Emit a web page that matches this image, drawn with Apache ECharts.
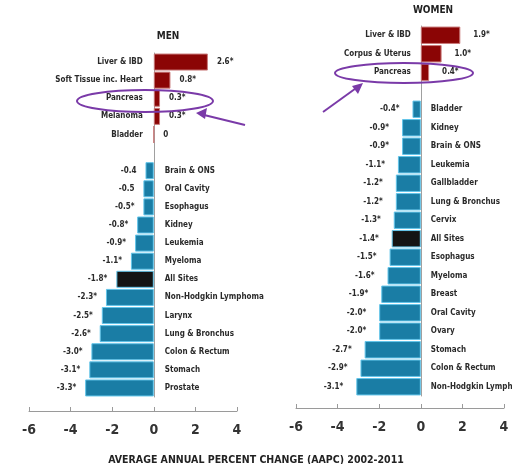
<!DOCTYPE html>
<html>
<head>
<meta charset="utf-8">
<script src="https://cdn.jsdelivr.net/npm/echarts@6/dist/echarts.min.js"></script>
<style>html,body{margin:0;padding:0;background:#fff}#c{width:512px;height:464px}</style>
</head>
<body>
<div id="c"></div>
<script>
// ---- data ----
var menCategories = ['Liver & IBD','Soft Tissue inc. Heart','Pancreas','Melanoma','Bladder','',
  'Brain & ONS','Oral Cavity','Esophagus','Kidney','Leukemia','Myeloma','All Sites',
  'Non-Hodgkin Lymphoma','Larynx','Lung & Bronchus','Colon & Rectum','Stomach','Prostate'];
var menValues = [2.6,0.8,0.3,0.3,0,null,-0.4,-0.5,-0.5,-0.8,-0.9,-1.1,-1.8,-2.3,-2.5,-2.6,-3.0,-3.1,-3.3];
var menSignificant = [1,1,1,1,0,0,0,0,1,1,1,1,1,1,1,1,1,1,1];

var womenCategories = ['Liver & IBD','Corpus & Uterus','Pancreas','',
  'Bladder','Kidney','Brain & ONS','Leukemia','Gallbladder','Lung & Bronchus','Cervix','All Sites',
  'Esophagus','Myeloma','Breast','Oral Cavity','Ovary','Stomach','Colon & Rectum','Non-Hodgkin Lymphoma'];
var womenValues = [1.9,1.0,0.4,null,-0.4,-0.9,-0.9,-1.1,-1.2,-1.2,-1.3,-1.4,-1.5,-1.6,-1.9,-2.0,-2.0,-2.7,-2.9,-3.1];
var womenSignificant = [1,1,1,0,1,1,1,1,1,1,1,1,1,1,1,1,1,1,1,1];

var axisTicks = [-6,-4,-2,0,2,4];
var titleMen = 'MEN', titleWomen = 'WOMEN';
var xTitle = 'AVERAGE ANNUAL PERCENT CHANGE (AAPC) 2002-2011';

// ---- styling helpers ----
var FONT = '"DejaVu Sans Condensed","DejaVu Sans",sans-serif';
var RED = '#8b0505', BLUE = '#1a7da5', BLACK = '#141414';

function fmt(v, sig) {
  var s = (v === 0) ? '0' : v.toFixed(1);
  return s + (sig ? '*' : '');
}

function barData(cats, vals, sig, valDist) {
  return vals.map(function (v, i) {
    if (v === null) return { value: null };
    var col = cats[i] === 'All Sites' ? BLACK : (v >= 0 ? RED : BLUE);
    var border = v >= 0 ? '#c97a7a' : '#62c5ea';
    return {
      value: v,
      itemStyle: { color: col, borderColor: border, borderWidth: 1 },
      label: {
        show: true,
        position: v >= 0 ? 'right' : 'left',
        distance: valDist,
        formatter: fmt(v, sig[i])
      }
    };
  });
}

function nameData(cats, vals, dist) {
  return vals.map(function (v, i) {
    if (v === null) return { value: null };
    return {
      value: 0,
      label: {
        show: true,
        position: v >= 0 ? 'left' : 'right',
        distance: dist,
        formatter: cats[i]
      }
    };
  });
}

var labelStyle = { fontFamily: FONT, fontSize: 8, fontWeight: 'bold', color: '#2a2a2a' };

function xAxisCfg(gridIndex, offset) {
  return {
    type: 'value', gridIndex: gridIndex, min: -6, max: 4, interval: 2,
    offset: offset,
    splitLine: { show: false },
    axisLine: { show: true, lineStyle: { color: '#9a9a9a', width: 1 } },
    axisTick: { show: true, inside: true, length: 4, lineStyle: { color: '#9a9a9a' } },
    axisLabel: {
      margin: 12, fontSize: 14, fontWeight: 'bold', color: '#333',
      fontFamily: FONT,
      customValues: axisTicks
    }
  };
}

function yAxisCfg(gridIndex, cats) {
  return {
    type: 'category', gridIndex: gridIndex, data: cats, inverse: true,
    axisLine: { show: true, onZero: true, lineStyle: { color: '#a0a0a0', width: 1 } },
    axisTick: { show: false },
    axisLabel: { show: false },
    splitLine: { show: false }
  };
}

var chart = echarts.init(document.getElementById('c'));
chart.setOption({
  animation: false,
  backgroundColor: '#fff',
  title: [
    { text: titleMen, left: 163, top: 26, textAlign: 'center',
      textStyle: { fontFamily: FONT, fontSize: 10, fontWeight: 'bold', color: '#222' } },
    { text: titleWomen, left: 428, top: 0, textAlign: 'center',
      textStyle: { fontFamily: FONT, fontSize: 10, fontWeight: 'bold', color: '#222' } },
    { text: xTitle, left: 'center', top: 450,
      textStyle: { fontFamily: FONT, fontSize: 10.5, fontWeight: 'bold', color: '#222' } }
  ],
  grid: [
    { left: 29, right: 275, top: 53, bottom: 67 },
    { left: 296, right: 8, top: 26, bottom: 68 }
  ],
  xAxis: [ xAxisCfg(0, 14), xAxisCfg(1, 12) ],
  yAxis: [ yAxisCfg(0, menCategories), yAxisCfg(1, womenCategories) ],
  series: [
    { type: 'bar', xAxisIndex: 0, yAxisIndex: 0, barCategoryGap: '6%', barGap: '-100%',
      data: barData(menCategories, menValues, menSignificant, 9), label: labelStyle, z: 2 },
    { type: 'bar', xAxisIndex: 0, yAxisIndex: 0, barGap: '-100%', silent: true,
      itemStyle: { color: 'transparent' },
      data: nameData(menCategories, menValues, 11), label: labelStyle, z: 3 },
    { type: 'bar', xAxisIndex: 1, yAxisIndex: 1, barCategoryGap: '6%', barGap: '-100%',
      data: barData(womenCategories, womenValues, womenSignificant, 13), label: labelStyle, z: 2 },
    { type: 'bar', xAxisIndex: 1, yAxisIndex: 1, barGap: '-100%', silent: true,
      itemStyle: { color: 'transparent' },
      data: nameData(womenCategories, womenValues, 10), label: labelStyle, z: 3 }
  ],
  graphic: [
    { type: 'ellipse', shape: { cx: 145, cy: 101, rx: 68, ry: 11 },
      style: { fill: 'none', stroke: '#7a3aa8', lineWidth: 2 }, z: 10 },
    { type: 'line', shape: { x1: 245, y1: 125, x2: 200, y2: 114 },
      style: { stroke: '#7a3aa8', lineWidth: 2 }, z: 10 },
    { type: 'polygon', shape: { points: [[196,113],[207,108],[205,119]] },
      style: { fill: '#7a3aa8' }, z: 10 },
    { type: 'ellipse', shape: { cx: 404, cy: 73, rx: 69, ry: 10 },
      style: { fill: 'none', stroke: '#7a3aa8', lineWidth: 2 }, z: 10 },
    { type: 'line', shape: { x1: 323, y1: 112, x2: 359, y2: 86 },
      style: { stroke: '#7a3aa8', lineWidth: 2 }, z: 10 },
    { type: 'polygon', shape: { points: [[363,83],[352,86],[358,94]] },
      style: { fill: '#7a3aa8' }, z: 10 }
  ]
});
</script>
</body>
</html>
